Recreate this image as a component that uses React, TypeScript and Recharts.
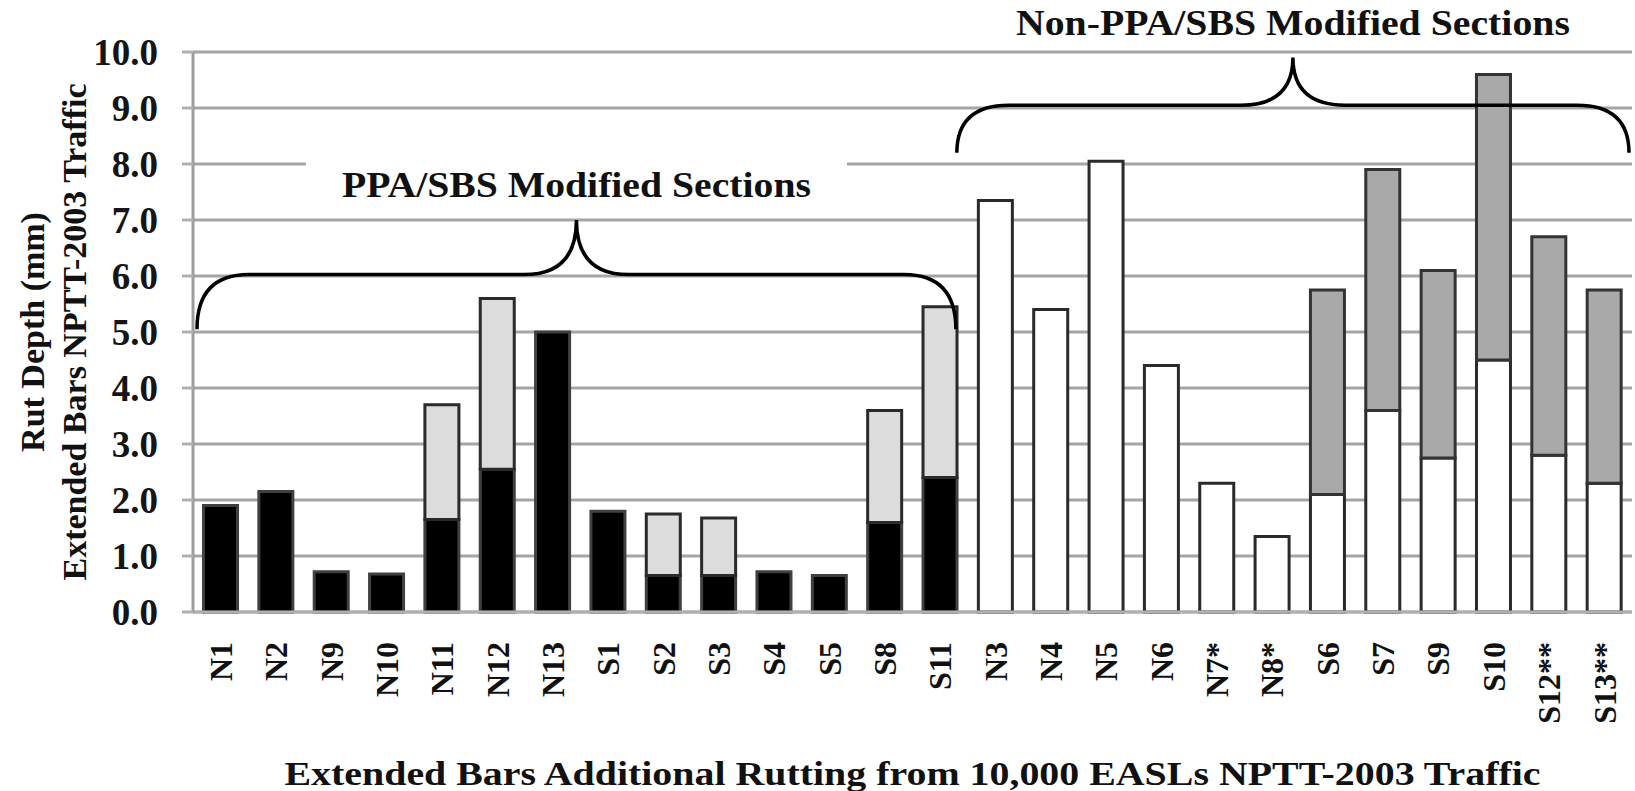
import { BarChart, Bar, XAxis, YAxis, CartesianGrid, Cell, ReferenceArea } from "recharts";

const SERIF = '"Liberation Serif", "Times New Roman", serif';

// Section names, in plotting order
const ppaSections = ["N1", "N2", "N9", "N10", "N11", "N12", "N13", "S1", "S2", "S3", "S4", "S5", "S8", "S11"];
const nonPpaSections = ["N3", "N4", "N5", "N6", "N7*", "N8*", "S6", "S7", "S9", "S10", "S12**", "S13**"];

// Rut depth (mm) at the end of the regular traffic
const ppaInitial = [1.9, 2.15, 0.72, 0.68, 1.65, 2.55, 5.0, 1.8, 0.65, 0.65, 0.72, 0.65, 1.6, 2.4];
const nonPpaInitial = [7.35, 5.4, 8.05, 4.4, 2.3, 1.35, 2.1, 3.6, 2.75, 4.5, 2.8, 2.3];

// Rut depth (mm) after the extended traffic (top of each bar)
const ppaExtended = [1.9, 2.15, 0.72, 0.68, 3.7, 5.6, 5.0, 1.8, 1.75, 1.68, 0.72, 0.65, 3.6, 5.45];
const nonPpaExtended = [7.35, 5.4, 8.05, 4.4, 2.3, 1.35, 5.75, 7.9, 6.1, 9.6, 6.7, 5.75];

const yTicks = [0, 1, 2, 3, 4, 5, 6, 7, 8, 9, 10];

// brace anchors in mm: [ends, tip]
const ppaBrace = [5.05, 7.0];
const nonPpaBrace = [8.2, 9.9];

const toRows = (names: string[], initial: number[], extended: number[], ppa: boolean) =>
  names.map((name, i) => {
    const extra = +(extended[i] - initial[i]).toFixed(2);
    return { name, ppa, initial: initial[i], added: extra > 0 ? extra : null };
  });

const rows = [
  ...toRows(ppaSections, ppaInitial, ppaExtended, true),
  ...toRows(nonPpaSections, nonPpaInitial, nonPpaExtended, false),
];

type BraceProps = {
  x?: number;
  y?: number;
  width?: number;
  height?: number;
  title: string;
  titleWidth: number;
  insetLeft: number;
  insetRight: number;
};

function Brace({ x = 0, y = 0, width = 0, height = 0, title, titleWidth, insetLeft, insetRight }: BraceProps) {
  const left = x + insetLeft;
  const right = x + width - insetRight;
  const top = y;
  const bottom = y + height;
  const mid = (top + bottom) / 2;
  const c = (left + right) / 2;
  const r = 52;
  const d =
    `M${left},${bottom} Q${left},${mid} ${left + r},${mid} L${c - r},${mid} ` +
    `Q${c},${mid} ${c},${top} Q${c},${mid} ${c + r},${mid} L${right - r},${mid} ` +
    `Q${right},${mid} ${right},${bottom}`;
  const baseline = top - 23;
  return (
    <g>
      <rect x={c - titleWidth / 2 - 36} y={baseline - 44} width={titleWidth + 72} height={52} fill="#fff" />
      <path d={d} fill="none" stroke="#000" strokeWidth={3.5} />
      <text
        x={c}
        y={baseline}
        textAnchor="middle"
        textLength={titleWidth}
        lengthAdjust="spacingAndGlyphs"
        fontFamily={SERIF}
        fontWeight={700}
        fontSize={36}
        fill="#111"
      >
        {title}
      </text>
    </g>
  );
}

const SectionTick = ({ x, y, payload }: { x?: number; y?: number; payload?: { value: string } }) => (
  <text
    x={x}
    y={y}
    transform={`rotate(-90 ${x} ${y})`}
    textAnchor="end"
    dy="0.35em"
    fontFamily={SERIF}
    fontWeight={700}
    fontSize={32}
    fill="#111"
  >
    {payload?.value}
  </text>
);

const YTitle = (props: any) => {
  const vb = props.viewBox || { x: 0, y: 0, width: 0, height: 0 };
  const cy = vb.y + vb.height / 2;
  return (
    <g fontFamily={SERIF} fontWeight={700} fontSize={34} fill="#111">
      <text x={32} y={cy} transform={`rotate(-90 32 ${cy})`} textAnchor="middle" dy="0.35em">
        Rut Depth (mm)
      </text>
      <text x={74} y={cy} transform={`rotate(-90 74 ${cy})`} textAnchor="middle" dy="0.35em">
        Extended Bars NPTT-2003 Traffic
      </text>
    </g>
  );
};

const XTitle = (props: any) => {
  const vb = props.viewBox || { x: 0, y: 0, width: 0, height: 0 };
  return (
    <text
      x={vb.x + vb.width / 2}
      y={vb.y + 173}
      textAnchor="middle"
      textLength={1256}
      lengthAdjust="spacingAndGlyphs"
      fontFamily={SERIF}
      fontWeight={700}
      fontSize={34}
      fill="#111"
    >
      Extended Bars Additional Rutting from 10,000 EASLs NPTT-2003 Traffic
    </text>
  );
};

export default function App() {
  return (
    <div style={{ position: "absolute", left: 0, top: 0, background: "#fff" }}>
      <BarChart
        width={1635}
        height={791}
        data={rows}
        margin={{ top: 52, right: 3, left: 3, bottom: 0 }}
        barCategoryGap="19%"
      >
        <CartesianGrid vertical={false} stroke="#a5a5a5" strokeWidth={3} />
        <XAxis
          dataKey="name"
          height={179}
          interval={0}
          tickLine={false}
          tickSize={0}
          tickMargin={30}
          axisLine={{ stroke: "#b0b0b0", strokeWidth: 3 }}
          tick={<SectionTick />}
          label={XTitle}
        />
        <YAxis
          domain={[0, 10]}
          ticks={yTicks}
          interval={0}
          width={190}
          tickSize={11}
          tickMargin={24}
          tickFormatter={(v: number) => v.toFixed(1)}
          axisLine={{ stroke: "#9c9c9c", strokeWidth: 3 }}
          tickLine={{ stroke: "#b0b0b0", strokeWidth: 3 }}
          tick={{ fontFamily: SERIF, fontWeight: 700, fontSize: 37, fill: "#151515" }}
          label={YTitle}
        />
        <Bar dataKey="initial" stackId="rut" isAnimationActive={false} strokeWidth={3}>
          {rows.map((r) => (
            <Cell key={r.name} fill={r.ppa ? "#000000" : "#ffffff"} stroke={r.ppa ? "#404040" : "#2a2a2a"} />
          ))}
        </Bar>
        <Bar dataKey="added" stackId="rut" isAnimationActive={false} strokeWidth={3}>
          {rows.map((r) => (
            <Cell key={r.name} fill={r.ppa ? "#dcdcdc" : "#a9a9a9"} stroke={r.ppa ? "#2a2a2a" : "#333333"} />
          ))}
        </Bar>
        <ReferenceArea
          x1={ppaSections[0]}
          x2={ppaSections[ppaSections.length - 1]}
          y1={ppaBrace[0]}
          y2={ppaBrace[1]}
          ifOverflow="visible"
          zIndex={600}
          shape={(p: any) => (
            <Brace {...p} title="PPA/SBS Modified Sections" titleWidth={469} insetLeft={4} insetRight={12} />
          )}
        />
        <ReferenceArea
          x1={nonPpaSections[0]}
          x2={nonPpaSections[nonPpaSections.length - 1]}
          y1={nonPpaBrace[0]}
          y2={nonPpaBrace[1]}
          ifOverflow="visible"
          zIndex={600}
          shape={(p: any) => (
            <Brace {...p} title="Non-PPA/SBS Modified Sections" titleWidth={554} insetLeft={-11} insetRight={3} />
          )}
        />
      </BarChart>
    </div>
  );
}
